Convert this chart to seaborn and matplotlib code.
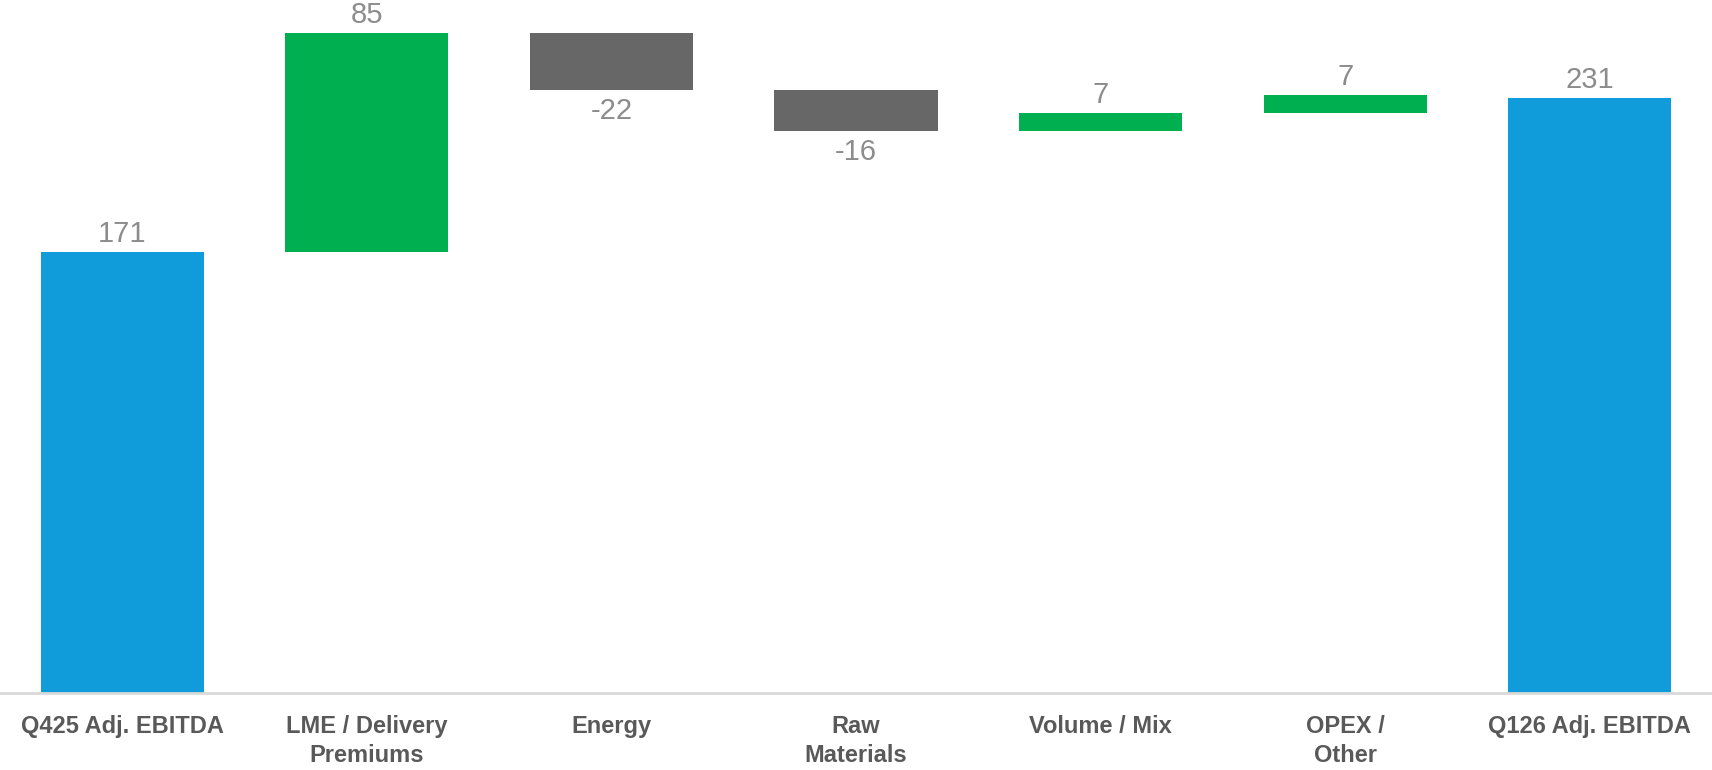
import matplotlib
matplotlib.use("Agg")
import matplotlib.pyplot as plt
import seaborn as sns
import numpy as np
import pandas as pd

categories = ["Q425 Adj. EBITDA", "LME / Delivery\nPremiums", "Energy", "Raw\nMaterials",
              "Volume / Mix", "OPEX /\nOther", "Q126 Adj. EBITDA"]
start_total = 171
deltas = [85, -22, -16, 7, 7]
end_total = 231
labels = ["171", "85", "-22", "-16", "7", "7", "231"]

BLUE = "#109CDA"
GREEN = "#00B050"
GREY = "#666766"

# waterfall geometry from data
cum = start_total
bottoms = [0]
heights = [start_total]
colors = [BLUE]
for d in deltas:
    if d >= 0:
        bottoms.append(cum)
        heights.append(d)
        colors.append(GREEN)
    else:
        bottoms.append(cum + d)
        heights.append(-d)
        colors.append(GREY)
    cum += d
bottoms.append(0)
heights.append(end_total)
colors.append(BLUE)
signs = [1] + [1 if d >= 0 else -1 for d in deltas] + [1]

df = pd.DataFrame({"cat": categories, "height": heights})

sns.set_theme(style="white")
plt.rcParams["font.family"] = ["Liberation Sans", "DejaVu Sans"]

fig = plt.figure(figsize=(17.12, 7.70), dpi=100)
ax = fig.add_axes([0, 0.1, 1, 0.9])

sns.barplot(data=df, x="cat", y="height", order=categories, bottom=np.array(bottoms),
            width=0.667, errorbar=None, color=BLUE, linewidth=0, ax=ax)
for p, c in zip(ax.patches, colors):
    p.set_facecolor(c)
    p.set_edgecolor(c)
    p.set_linewidth(0)

for i, (b, h, s, lab) in enumerate(zip(bottoms, heights, signs, labels)):
    if s > 0:
        ax.annotate(lab, (i, b + h), xytext=(0, 3), textcoords="offset points",
                    ha="center", va="bottom", fontsize=21, color="#8C8C8C")
    else:
        ax.annotate(lab, (i, b), xytext=(0, -5), textcoords="offset points",
                    ha="center", va="top", fontsize=21, color="#8C8C8C")

ax.set_xlim(-0.5, 6.5)
ax.set_ylim(0, 269)
ax.set_xlabel("")
ax.set_ylabel("")
ax.set_yticks([])
for s in ["top", "left", "right"]:
    ax.spines[s].set_visible(False)
ax.spines["bottom"].set_color("#D9D9D9")
ax.spines["bottom"].set_linewidth(2)
ax.tick_params(axis="x", length=0, pad=16)
for t in ax.get_xticklabels():
    t.set_fontweight("bold")
    t.set_fontsize(17)
    t.set_color("#595959")
    t.set_linespacing(1.3)

fig.savefig("out.png", dpi=100)
